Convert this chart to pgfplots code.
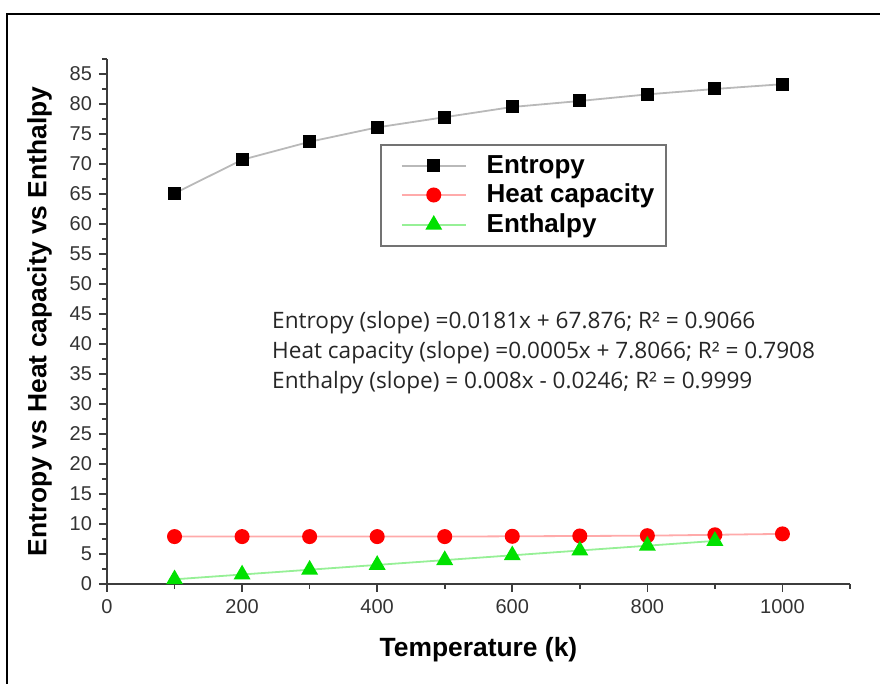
\documentclass[border=0pt]{standalone}
\usepackage{fontspec}
\setmainfont{Liberation Sans}
\newfontfamily\notefont{Open Sans}
\usepackage{pgfplots}
\pgfplotsset{compat=1.18}
\definecolor{axisgray}{RGB}{60,60,60}
\definecolor{entline}{RGB}{185,185,185}
\definecolor{heatline}{RGB}{255,170,170}
\definecolor{enthline}{RGB}{150,240,150}
\definecolor{mkgreen}{RGB}{0,225,0}

\begin{document}
\begin{tikzpicture}
\path[use as bounding box] (0,0) rectangle (440pt,342pt);
\draw[line width=0.8pt] (3.5pt,0) -- (3.5pt,335pt) -- (440pt,335pt);
\begin{axis}[
at={(53.5pt,50pt)}, anchor=south west,
scale only axis,
width=371.5pt, height=262.5pt,
xmin=0, xmax=1100, ymin=0, ymax=87.5,
axis lines=left,
axis line style={draw=axisgray, line width=1pt, -},
xtick={0,200,...,1000},
minor xtick={100,300,...,1100},
ytick={0,5,...,85},
minor ytick={2.5,7.5,...,87.5},
tick align=outside,
major tick length=4pt,
minor tick length=2.5pt,
tick style={draw=axisgray, line width=0.8pt},
/pgf/number format/assume math mode=true,
/pgf/number format/1000 sep={},
ticklabel style={font=\fontsize{10}{11}\selectfont, text=black!80},
xlabel={\textbf{Temperature (k)}},
ylabel={\textbf{Entropy vs Heat capacity vs Enthalpy}},
label style={font=\fontsize{13.2}{15}\selectfont},
xlabel style={yshift=-5pt},
ylabel style={yshift=2pt},
legend style={at={(axis cs:404,73.3)}, anchor=north west,
  draw=black!55, line width=1pt, font=\fontsize{13}{15}\selectfont\bfseries,
  inner xsep=4pt, inner ysep=3pt, row sep=0pt},
legend cell align=left,
legend image code/.code={
  \path (-6pt,0pt) (40pt,0pt);
  \draw[#1, mark repeat=2, mark phase=2] plot coordinates {(0pt,0pt) (16pt,0pt) (32pt,0pt)};},
]
\addplot[entline, line width=0.9pt, mark=square*, mark size=2.8pt,
  mark options={fill=black, draw=black, solid}]
coordinates {(100,65.1) (200,70.7) (300,73.7) (400,76.1) (500,77.8) (600,79.5) (700,80.5) (800,81.6) (900,82.5) (1000,83.3)};
\addlegendentry{Entropy}
\addplot[heatline, line width=0.9pt, mark=*, mark size=3.3pt,
  mark options={fill=red, draw=red, solid}]
coordinates {(100,7.9) (200,7.9) (300,7.9) (400,7.9) (500,7.9) (600,7.95) (700,8.0) (800,8.05) (900,8.2) (1000,8.35)};
\addlegendentry{Heat capacity}
\addplot[enthline, line width=0.9pt, mark=triangle*, mark size=4pt,
  mark options={fill=mkgreen, draw=mkgreen, solid}]
coordinates {(100,0.78) (200,1.58) (300,2.38) (400,3.18) (500,3.98) (600,4.78) (700,5.58) (800,6.38) (900,7.18)};
\addlegendentry{Enthalpy}
\node[anchor=west, align=left, font=\notefont\fontsize{11.3}{15}\selectfont, text=black!85, inner sep=0pt]
  at (axis cs:244,38.5) {Entropy (slope) =0.0181x + 67.876; R² = 0.9066\\
Heat capacity (slope) =0.0005x + 7.8066; R² = 0.7908\\
Enthalpy (slope) = 0.008x - 0.0246; R² = 0.9999};
\end{axis}
\end{tikzpicture}
\end{document}
